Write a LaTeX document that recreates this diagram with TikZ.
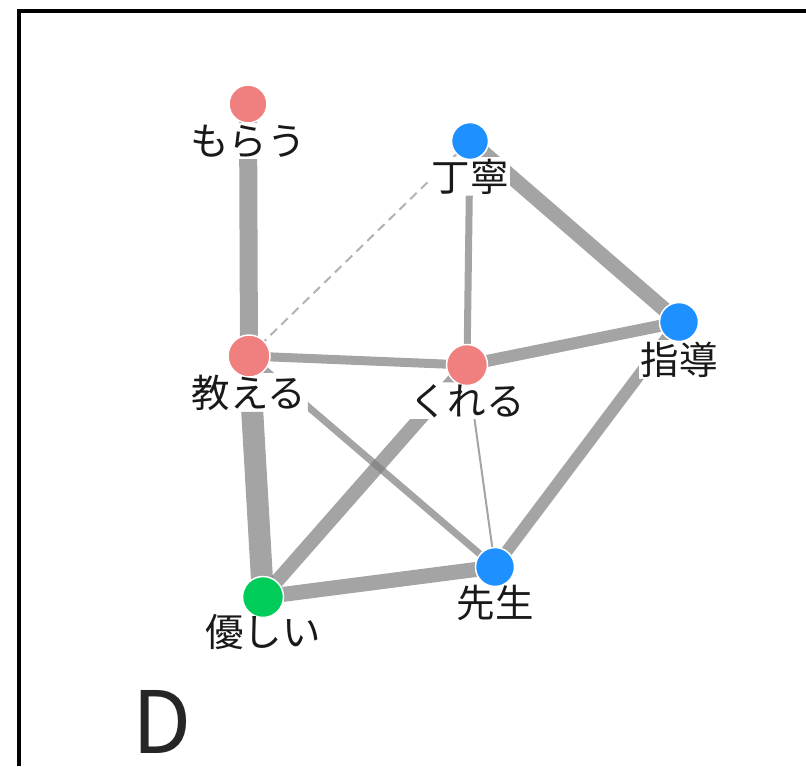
\documentclass[tikz,border=0pt]{standalone}
\usepackage{fontspec}
\newfontfamily\jpfont{Noto Sans CJK JP}
\usepackage{xcolor}
\usepackage{tikz}
\usetikzlibrary{backgrounds}
\definecolor{wordred}{RGB}{240,128,128}
\definecolor{wordblue}{RGB}{30,144,255}
\definecolor{wordgreen}{RGB}{0,204,90}
\definecolor{linkgray}{RGB}{125,125,125}
\definecolor{dashgray}{RGB}{178,178,178}

\begin{document}
\begin{tikzpicture}[x=1pt,y=-1pt,
		word/.style={circle,fill=#1,draw=white,line width=1.5pt,inner sep=0pt},
		wordlbl/.style={anchor=base,inner sep=1.5pt,text=black!90,font=\jpfont\fontsize{38.5}{38.5}\selectfont},
		link/.style={draw=linkgray,draw opacity=0.7,line width=#1},
		weaklink/.style={draw=dashgray,line width=2pt,dash pattern=on 9pt off 6pt}]
		\useasboundingbox (0,0) rectangle (806,766);
		\draw[line width=4pt] (19,766)--(19,11)--(806,11);
		% words
		\node[word=wordred,minimum size=38pt] (mora) at (248,104) {};
		\node[word=wordblue,minimum size=37pt] (tei) at (470,141) {};
		\node[word=wordred,minimum size=42pt] (oshi) at (249,356) {};
		\node[word=wordred,minimum size=41pt] (kure) at (467,365) {};
		\node[word=wordblue,minimum size=39pt] (shido) at (679,322) {};
		\node[word=wordblue,minimum size=39pt] (sensei) at (495,567) {};
		\node[word=wordgreen,minimum size=41pt] (yasa) at (263,597) {};
		% labels
		\node[wordlbl] (mora-l) at ([yshift=-51pt]mora.center) {もらう};
		\node[wordlbl] (tei-l) at ([yshift=-50pt]tei.center) {丁寧};
		\node[wordlbl] (oshi-l) at ([yshift=-51pt]oshi.center) {教える};
		\node[wordlbl] (kure-l) at ([yshift=-50pt]kure.center) {くれる};
		\node[wordlbl] (shido-l) at ([yshift=-52pt]shido.center) {指導};
		\node[wordlbl] (sensei-l) at ([yshift=-50pt]sensei.center) {先生};
		\node[wordlbl] (yasa-l) at ([yshift=-49pt]yasa.center) {優しい};
		\node[inner sep=0pt,text=black!85,font=\jpfont\fontsize{86}{86}\selectfont] (tag) at (162,722) {D};
		% links, kept out of the label boxes
		\begin{scope}[on background layer]
			\clip (0,0) rectangle (806,766)
			(mora-l.south west) rectangle (mora-l.north east)
			(tei-l.south west) rectangle (tei-l.north east)
			(oshi-l.south west) rectangle (oshi-l.north east)
			(kure-l.south west) rectangle (kure-l.north east)
			(shido-l.south west) rectangle (shido-l.north east)
			(sensei-l.south west) rectangle (sensei-l.north east)
			(yasa-l.south west) rectangle (yasa-l.north east);
			\draw[weaklink] (oshi.center)--(tei.center);
			\draw[link=18pt] (mora.center)--(oshi.center);
			\draw[link=7pt] (tei.center)--(kure.center);
			\draw[link=15pt] (tei.center)--(shido.center);
			\draw[link=9pt] (oshi.center)--(kure.center);
			\draw[link=12pt] (kure.center)--(shido.center);
			\draw[link=22pt] (oshi.center)--(yasa.center);
			\draw[link=14pt] (kure.center)--(yasa.center);
			\draw[link=7pt] (oshi.center)--(sensei.center);
			\draw[link=2pt] (kure.center)--(sensei.center);
			\draw[link=12pt] (shido.center)--(sensei.center);
			\draw[link=15pt] (yasa.center)--(sensei.center);
		\end{scope}
	\end{tikzpicture}
\end{document}
